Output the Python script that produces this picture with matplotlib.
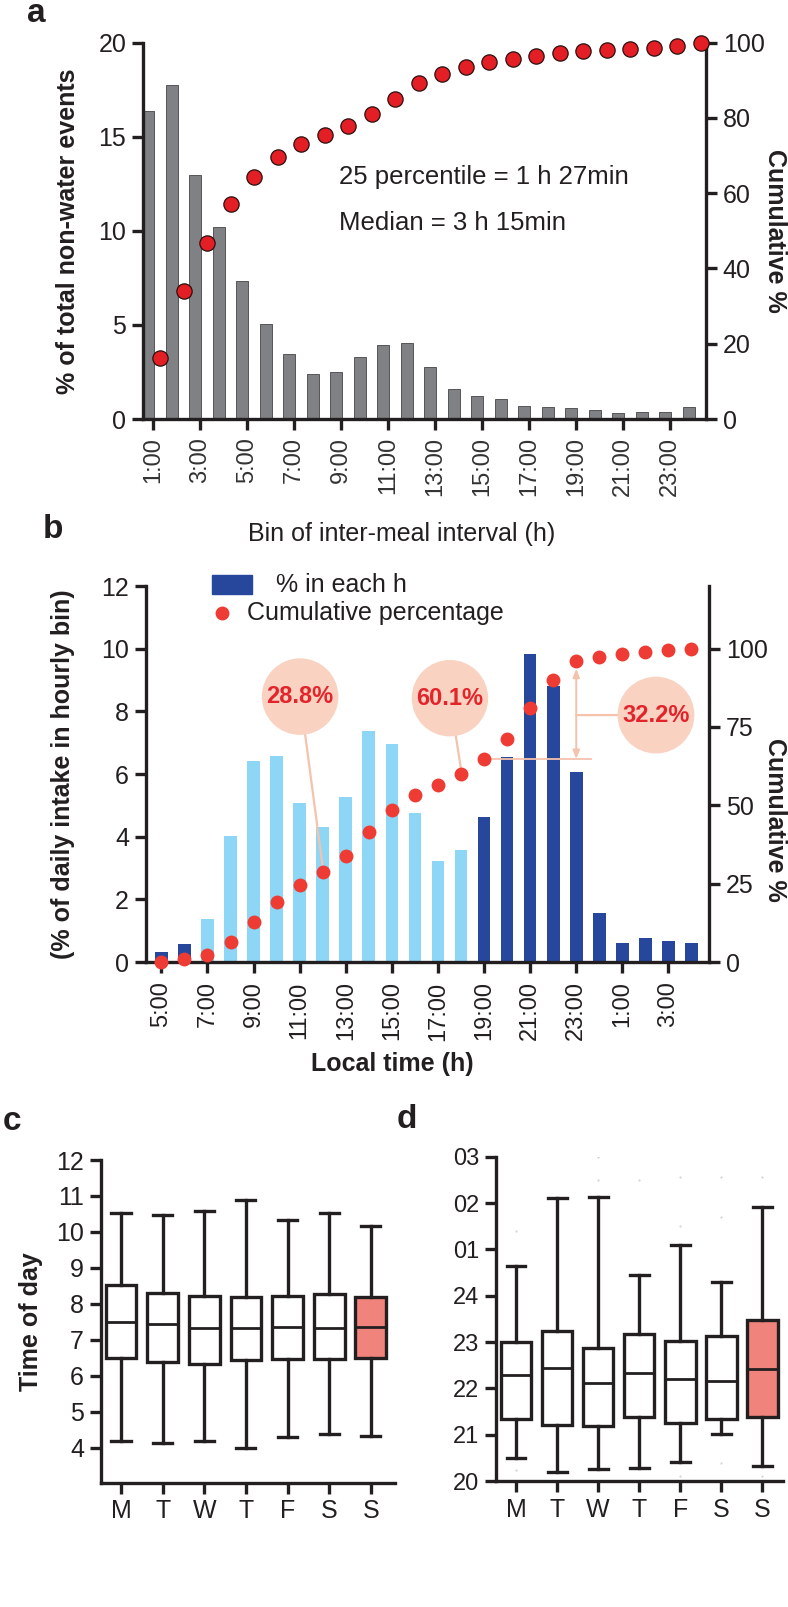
import matplotlib.pyplot as plt
import numpy as np
from matplotlib.patches import Rectangle
from matplotlib.lines import Line2D

plt.rcParams['font.family'] = ['Liberation Sans', 'DejaVu Sans']
ink = '#231f20'
plt.rcParams['text.color'] = ink
plt.rcParams['axes.labelcolor'] = ink
plt.rcParams['xtick.color'] = ink
plt.rcParams['ytick.color'] = ink

# ---- panel a: inter-meal interval histogram ----
interval_hours = list(range(1, 25))
interval_pct = [16.35, 17.73, 12.95, 10.19, 7.35, 5.03, 3.47, 2.41, 2.52, 3.28, 3.91, 4.02,
                2.75, 1.61, 1.22, 1.05, 0.71, 0.62, 0.57, 0.46, 0.30, 0.35, 0.35, 0.64]
interval_cum = [16.1, 33.9, 46.9, 57.1, 64.4, 69.5, 73.1, 75.5, 77.9, 81.1, 85.0, 89.2,
                91.7, 93.6, 94.9, 95.7, 96.5, 97.2, 97.8, 98.1, 98.3, 98.5, 99.1, 99.8]
interval_ticks = ['1:00', '3:00', '5:00', '7:00', '9:00', '11:00',
                  '13:00', '15:00', '17:00', '19:00', '21:00', '23:00']

# ---- panel b: hourly intake ----
clock_labels = ['5:00', '6:00', '7:00', '8:00', '9:00', '10:00', '11:00', '12:00',
                '13:00', '14:00', '15:00', '16:00', '17:00', '18:00', '19:00', '20:00',
                '21:00', '22:00', '23:00', '0:00', '1:00', '2:00', '3:00', '4:00']
hourly_pct = [0.31, 0.57, 1.36, 4.03, 6.41, 6.57, 5.09, 4.32, 5.27, 7.38, 6.95, 4.77,
              3.23, 3.56, 4.64, 6.55, 9.82, 8.81, 6.07, 1.55, 0.60, 0.76, 0.67, 0.61]
hourly_cum = [0.1, 0.8, 2.2, 6.3, 12.7, 19.2, 24.6, 28.7, 33.9, 41.5, 48.5, 53.3,
              56.4, 59.9, 64.8, 71.2, 81.0, 90.0, 96.1, 97.5, 98.3, 99.0, 99.6, 100.0]
daytime = ['7:00', '8:00', '9:00', '10:00', '11:00', '12:00',
           '13:00', '14:00', '15:00', '16:00', '17:00', '18:00']

# ---- panels c/d: weekday box plots ----
weekdays = ['M', 'T', 'W', 'T', 'F', 'S', 'S']
wake_lo = [4.20, 4.12, 4.20, 4.00, 4.31, 4.38, 4.34]
wake_q1 = [6.50, 6.38, 6.33, 6.45, 6.48, 6.48, 6.51]
wake_med = [7.50, 7.44, 7.34, 7.34, 7.37, 7.34, 7.35]
wake_q3 = [8.52, 8.29, 8.22, 8.18, 8.22, 8.27, 8.20]
wake_hi = [10.52, 10.47, 10.59, 10.89, 10.33, 10.52, 10.16]

sleep_lo = [20.50, 20.20, 20.25, 20.27, 20.40, 21.02, 20.32]
sleep_q1 = [21.33, 21.20, 21.19, 21.38, 21.25, 21.33, 21.39]
sleep_med = [22.29, 22.43, 22.11, 22.33, 22.20, 22.15, 22.42]
sleep_q3 = [23.00, 23.23, 22.87, 23.17, 23.03, 23.13, 23.48]
sleep_hi = [24.65, 26.11, 26.14, 24.45, 25.10, 24.30, 25.91]
sleep_fliers = [[20.24, 25.4], [], [27.0, 26.5], [26.5], [26.57, 25.5, 20.1],
                [26.57, 25.7, 20.38], [26.57, 20.1]]
sleep_ticklabels = ['20', '21', '22', '23', '24', '01', '02', '03']

gray_bar = '#808184'
red_dot = '#E41E25'
light_blue = '#8DD6F5'
dark_blue = '#27479D'
red_b = '#EE3B33'
peach = '#F9D2C1'
peach_line = '#F5C2AC'
note_red = '#E3242B'
salmon = '#F0837B'
lw = 2.4


def style_axis(ax, sides):
    for s in ['left', 'right', 'top', 'bottom']:
        ax.spines[s].set_visible(s in sides)
        ax.spines[s].set_linewidth(lw)
        ax.spines[s].set_color(ink)
    ax.tick_params(direction='out', length=8, width=lw, labelsize=18, pad=4)


fig = plt.figure(figsize=(7.88, 16.07), dpi=100)
W, H = 788, 1607


def axes_px(left, top, right, bottom):
    return fig.add_axes([left / W, 1 - bottom / H, (right - left) / W, (bottom - top) / H])


# ================= panel a =================
ax = axes_px(143, 42.7, 706, 419)
hrs = np.array(interval_hours)
ax.bar(hrs - 0.2, interval_pct, width=0.5, color=gray_bar, edgecolor='#555558', linewidth=0.7, zorder=2)
ax.set_xlim(0.574, 24.53)
ax.set_ylim(0, 20)
ax.set_yticks([0, 5, 10, 15, 20])
ax.set_xticks(hrs[::2])
ax.set_xticklabels(interval_ticks, rotation=90)
style_axis(ax, ['left', 'bottom'])
ax.tick_params(axis='x', labelsize=17, pad=5, labelcolor='#333333')
ax.set_ylabel('% of total non-water events', fontsize=18, fontweight='bold')
ax.yaxis.set_label_coords(-0.112, 0.5)
ax.set_xlabel('Bin of inter-meal interval (h)', fontsize=18)
ax.xaxis.set_label_coords(0.46, -0.275)
ax.text(8.91, 12.87, '25 percentile = 1 h 27min', fontsize=18.5, va='center', ha='left')
ax.text(8.91, 10.4, 'Median = 3 h 15min', fontsize=18.5, va='center', ha='left')

ax2 = ax.twinx()
ax2.plot(hrs + 0.3, interval_cum, 'o', ms=11, mfc=red_dot, mec='#2a1010', mew=0.9,
         clip_on=False, zorder=3)
ax2.set_ylim(0, 100)
ax2.set_yticks([0, 20, 40, 60, 80, 100])
style_axis(ax2, ['right'])
ax2.set_ylabel('Cumulative %', fontsize=18, fontweight='bold', rotation=270, va='bottom')
ax2.yaxis.set_label_coords(1.101, 0.5)

# ================= panel b =================
bx = axes_px(145.7, 586, 709, 962)
idx = np.arange(len(clock_labels))
bcolors = [light_blue if c in daytime else dark_blue for c in clock_labels]
bx.bar(idx, hourly_pct, width=0.55, color=bcolors, zorder=2)
bx.set_xlim(-0.68, 23.76)
bx.set_ylim(0, 12)
bx.set_yticks(range(0, 13, 2))
bx.set_xticks(idx[::2])
bx.set_xticklabels(clock_labels[::2], rotation=90)
style_axis(bx, ['left', 'bottom'])
bx.tick_params(axis='x', labelsize=17, pad=6)
bx.set_ylabel('(% of daily intake in hourly bin)', fontsize=18, fontweight='bold')
bx.yaxis.set_label_coords(-0.1255, 0.5)
bx.set_xlabel('Local time (h)', fontsize=18, fontweight='bold')
bx.xaxis.set_label_coords(0.437, -0.24)

bx2 = bx.twinx()
bx2.plot(idx, hourly_cum, 'o', ms=10, mfc=red_b, mec='none', clip_on=False, zorder=4)
bx2.set_ylim(0, 120)
bx2.set_yticks([0, 25, 50, 75, 100])
style_axis(bx2, ['right'])
bx2.set_ylabel('Cumulative %', fontsize=18, fontweight='bold', rotation=270, va='bottom')
bx2.yaxis.set_label_coords(1.096, 0.378)

# legend drawn by hand (two rows above the bars)
bx.add_patch(Rectangle((0.118, 0.979), 0.071, 0.05, transform=bx.transAxes,
                       color=dark_blue, clip_on=False))
bx.text(0.232, 1.003, '% in each h', transform=bx.transAxes, fontsize=18, va='center')
bx.add_line(Line2D([0.136], [0.928], transform=bx.transAxes, marker='o', ms=10,
                   mfc=red_b, mec='none', clip_on=False))
bx.text(0.179, 0.928, 'Cumulative percentage', transform=bx.transAxes, fontsize=18, va='center')

# callouts
callout_kw = dict(ha='center', va='center', fontsize=17, fontweight='bold', color=note_red,
                  bbox=dict(boxstyle='circle,pad=0.2', fc=peach, ec='none'), zorder=3)
bx2.annotate('28.8%', xy=(7, hourly_cum[7] + 1.6), xytext=(6.02, 84.7),
             arrowprops=dict(arrowstyle='-', color=peach_line, lw=1.6, shrinkA=0, shrinkB=0),
             **callout_kw)
bx2.annotate('60.1%', xy=(13, hourly_cum[13] + 1.6), xytext=(12.52, 84.2),
             arrowprops=dict(arrowstyle='-', color=peach_line, lw=1.6, shrinkA=0, shrinkB=0),
             **callout_kw)
bx2.annotate('32.2%', xy=(18, 78.8), xytext=(21.46, 78.8),
             arrowprops=dict(arrowstyle='-', color=peach_line, lw=1.6, shrinkA=0, shrinkB=0),
             **callout_kw)
bx2.plot([14, 18.64], [hourly_cum[14], hourly_cum[14]], color=peach_line, lw=1.3, zorder=2)
bx2.annotate('', xy=(18, hourly_cum[14]), xytext=(18, hourly_cum[18] - 2.5),
             arrowprops=dict(arrowstyle='<|-|>,head_length=0.5,head_width=0.2',
                             color=peach_line, lw=1.4, shrinkA=0, shrinkB=0), zorder=2)


# ================= panels c, d =================
def draw_boxes(ax, lo, q1, med, q3, hi, fliers=None):
    stats = []
    for i in range(len(lo)):
        stats.append(dict(whislo=lo[i], q1=q1[i], med=med[i], q3=q3[i], whishi=hi[i],
                          fliers=fliers[i] if fliers else []))
    pos = np.arange(1, len(lo) + 1)
    art = ax.bxp(stats, positions=pos, widths=0.74, capwidths=0.46, patch_artist=True,
                 showfliers=True,
                 boxprops=dict(facecolor='white', edgecolor=ink, linewidth=2.4),
                 whiskerprops=dict(color=ink, linewidth=2.4),
                 capprops=dict(color=ink, linewidth=2.4),
                 medianprops=dict(color=ink, linewidth=2.0),
                 flierprops=dict(marker='o', ms=1.6, mfc='#d4d4d4', mec='none'))
    art['boxes'][-1].set_facecolor(salmon)
    for b in art['boxes']:
        b.set_zorder(2)
    ax.set_xticks(pos)
    ax.set_xticklabels(weekdays)


cx = axes_px(100.7, 1160, 395, 1482.7)
draw_boxes(cx, wake_lo, wake_q1, wake_med, wake_q3, wake_hi)
cx.set_xlim(0.513, 7.58)
cx.set_ylim(3.03, 12)
cx.set_yticks(range(4, 13))
style_axis(cx, ['left', 'bottom'])
cx.set_ylabel('Time of day', fontsize=18, fontweight='bold')
cx.yaxis.set_label_coords(-0.195, 0.5)

dx = axes_px(496, 1156.7, 783, 1481)
draw_boxes(dx, sleep_lo, sleep_q1, sleep_med, sleep_q3, sleep_hi, sleep_fliers)
dx.set_xlim(0.513, 7.5)
dx.set_ylim(20, 27)
dx.set_yticks(range(20, 28))
dx.set_yticklabels(sleep_ticklabels)
style_axis(dx, ['left', 'bottom'])
dx.tick_params(axis='y', labelsize=17)

# panel letters
for letter, x, y in [('a', 36, 14), ('b', 53, 530), ('c', 12, 1121), ('d', 407, 1120)]:
    fig.text(x / W, 1 - y / H, letter, fontsize=24, fontweight='bold', ha='center', va='center')

fig.savefig('out.png', dpi=100, facecolor='white')
